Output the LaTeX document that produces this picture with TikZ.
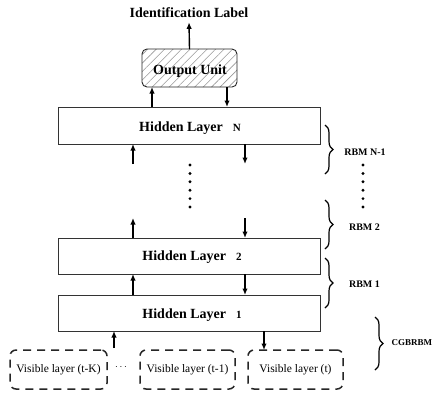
\documentclass[tikz,border=0pt]{standalone}
\usepackage{fontspec}
\setmainfont{Liberation Serif}
\usetikzlibrary{arrows.meta,decorations.pathreplacing,patterns.meta}
\begin{document}
\begin{tikzpicture}[x=1pt,y=-1pt,
  hbox/.style={draw=black!80,line width=0.9pt,minimum width=262pt,minimum height=37pt,inner sep=0pt,outer sep=0pt},
  htxt/.style={font=\fontsize{14}{16}\selectfont\bfseries,inner sep=0pt,anchor=base},
  vbox/.style={draw=black!85,line width=1.5pt,dash pattern=on 8pt off 6pt,rounded corners=6pt,
    minimum width=95pt,minimum height=39pt,inner sep=0pt,outer sep=0pt,font=\fontsize{11.5}{13}\selectfont},
  outbox/.style={draw=black!85,line width=0.9pt,rounded corners=5pt,minimum width=95pt,minimum height=38pt,
    inner sep=0pt,outer sep=0pt,pattern={Lines[angle=45,distance=6pt,line width=0.6pt]},pattern color=black!40},
  arr/.style={line width=1.4pt,-{Latex[length=6.5pt,width=5.5pt]}},
  brc/.style={decorate,decoration={brace,amplitude=8pt},line width=1.2pt},
  rbm/.style={font=\fontsize{10}{12}\selectfont\bfseries,inner sep=0pt}
]
\useasboundingbox (0,0) rectangle (435,392);
\fill[white] (0,0) rectangle (435,392);

% hidden layers
\node[hbox] (hN) at (189,125.5) {};
\node[hbox,minimum height=36pt] (h2) at (189,256) {};
\node[hbox,minimum height=36pt] (h1) at (189,313) {};
\node[htxt] (tN) at (190,131) {Hidden Layer\hspace{10pt}{\fontsize{11}{12}\selectfont N}};
\node[htxt] (t2) at (192,260) {Hidden Layer\hspace{10pt}{\fontsize{11}{12}\selectfont 2}};
\node[htxt] (t1) at (192,318) {Hidden Layer\hspace{10pt}{\fontsize{11}{12}\selectfont 1}};

% output unit and label
\node[outbox] (out) at (189.5,68) {};
\node[htxt] (tout) at (190,74) {Output Unit};
\node[htxt,inner ysep=4.5pt] (idl) at (189,17.5) {Identification Label};

% visible layers
\node[vbox,minimum width=97pt] (vK) at (58.5,369.5) {Visible layer (t-K)};
\node[vbox] (v1) at (187.5,369.5) {Visible layer (t-1)};
\node[vbox] (vt) at (295.5,369.5) {Visible layer (t)};
\node[inner sep=0pt,font=\fontsize{10}{10}\selectfont\bfseries] (gap) at (121,367) {$\cdots$};

% arrows between layers
\draw[arr] (out.north) -- (idl.south);
\draw[arr] ([xshift=94pt]hN.north west) -- ([xshift=94pt]hN.north west |- out.south);
\draw[arr] ([xshift=169pt]hN.north west |- out.south) -- ([xshift=169pt]hN.north west);

\coordinate (upN) at (133,164);
\coordinate (dnN) at (245,164);
\coordinate (up2) at (133,218);
\coordinate (dn2) at (245,218);
\draw[arr] (upN) -- (upN |- hN.south);
\draw[arr] (dnN |- hN.south) -- (dnN);
\draw[arr] (up2 |- h2.north) -- (up2);
\draw[arr] (dn2) -- (dn2 |- h2.north);

\draw[arr] ([xshift=75pt]h1.north west) -- ([xshift=75pt]h2.south west);
\draw[arr] ([xshift=187pt]h2.south west) -- ([xshift=187pt]h1.north west);

\coordinate (vin) at (114,348);
\draw[arr] (vin) -- (vin |- h1.south);
\draw[arr] ([xshift=206pt]h1.south west) -- ([xshift=206pt]h1.south west |- vt.north);

% vertical dots
\foreach \i in {0,...,5} {
  \fill (190,165+8.4*\i) circle (1.6pt);
  \fill (363,165+8.4*\i) circle (1.6pt);
}

% braces and their labels
\draw[brc] (325,125) -- (325,174);
\draw[brc] (325,200) -- (325,249);
\draw[brc] (325,258) -- (325,308);
\draw[brc] (375,317) -- (375,370);
\node[rbm] (rN) at (365,152.5) {RBM N-1};
\node[rbm] (r2) at (364.5,227) {RBM 2};
\node[rbm] (r1) at (364.5,284) {RBM 1};
\node[rbm,anchor=west,font=\fontsize{9}{11}\selectfont\bfseries] (rc) at (391.5,343) {CGBRBM};
\end{tikzpicture}
\end{document}
